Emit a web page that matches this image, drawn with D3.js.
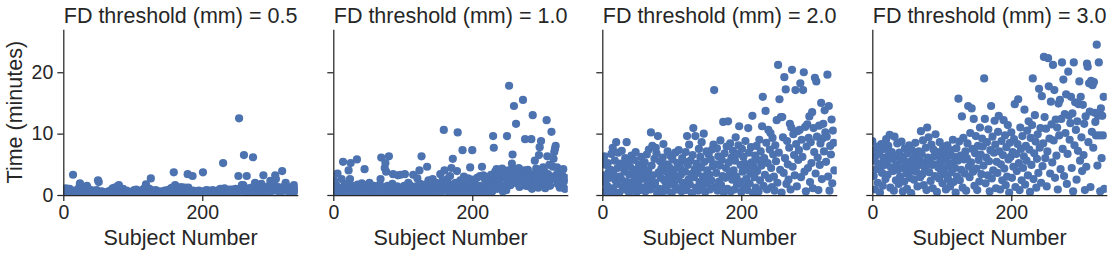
<!DOCTYPE html>
<html>
<head>
<meta charset="utf-8">
<script src="https://cdn.jsdelivr.net/npm/d3@7"></script>
<style>
  body { margin: 0; background: #fff; }
  svg text { font-family: Arial, "Liberation Sans", sans-serif; fill: #262626; }
</style>
</head>
<body>
<div class="chart"></div>
<script>
// facet titles
const thresholds = ["0.5", "1.0", "2.0", "3.0"];

// minutes kept per subject, one array per FD threshold (subject number = index)
const fd05 = [
  1.0,0.8,0.3,0.5,1.1,0.2,0.9,0.4,0.6,1.0,0.3,0.2,0.5,0.1,3.3,0.4,0.7,0.2,0.3,0.6,
  0.4,0.9,0.5,1.3,1.9,0.8,0.3,0.6,0.2,0.5,0.9,0.4,0.7,0.3,1.5,1.2,0.6,0.2,0.4,0.8,
  0.3,0.5,0.2,0.7,0.4,0.1,0.6,0.3,0.8,0.5,2.4,2.1,0.4,0.3,0.2,0.6,0.5,0.1,0.3,0.4,
  0.2,0.4,0.3,0.1,0.5,0.6,0.3,0.2,0.4,0.7,0.9,1.1,0.5,0.8,1.2,0.6,1.0,0.4,1.4,0.9,
  1.6,0.7,0.5,0.3,0.6,0.9,1.0,0.4,0.2,0.5,0.3,0.7,0.6,0.2,0.4,0.3,0.5,0.1,0.3,0.4,
  0.2,0.5,0.8,0.4,0.3,0.9,0.6,0.2,0.4,0.3,0.5,0.7,0.2,0.6,0.4,0.8,1.0,0.3,1.2,1.75,
  0.5,0.9,0.4,0.6,1.0,0.3,2.7,0.5,0.7,0.4,0.2,0.6,0.3,0.8,0.5,0.4,0.2,0.3,0.6,0.4,
  0.3,0.5,0.2,0.4,0.6,0.3,0.7,0.5,0.2,0.4,0.8,0.6,0.3,0.5,0.9,1.1,0.7,1.2,0.8,3.7,
  1.0,1.6,0.6,0.4,0.9,1.2,0.5,0.3,0.7,1.0,1.3,0.8,0.5,0.6,1.1,1.2,0.4,0.3,0.9,3.4,
  1.2,0.8,0.5,0.4,0.3,0.6,3.1,0.7,0.5,0.3,0.2,0.4,0.6,0.5,0.3,0.7,0.4,0.2,0.5,0.3,
  0.6,3.7,0.4,0.5,0.3,0.6,0.8,0.4,0.5,0.7,0.3,0.6,0.4,0.2,0.5,0.8,0.3,0.4,0.6,0.5,
  0.3,0.5,0.7,0.4,0.6,0.9,1.0,0.8,0.5,0.7,5.2,0.9,1.1,0.6,0.5,0.8,0.4,0.7,0.6,0.9,
  0.5,0.4,0.7,0.9,0.6,0.3,0.5,0.8,1.0,0.4,0.6,0.3,3.1,12.5,0.7,0.9,1.2,1.6,0.8,1.6,
  6.5,0.6,1.0,0.8,3.1,0.5,0.9,1.1,0.4,0.7,0.8,1.2,0.6,6.15,1.0,0.5,2.0,0.9,1.3,0.7,
  1.1,0.8,0.6,1.4,0.9,1.8,1.2,0.5,3.2,1.0,0.7,1.3,0.9,0.6,1.1,0.8,1.4,0.5,2.3,1.0,
  0.9,1.2,2.1,0.7,1.6,3.2,2.6,1.0,0.8,1.3,0.6,1.1,0.9,0.5,1.2,3.9,0.8,1.0,0.7,1.5,
  2.0,1.1,0.8,1.3,0.6,1.0,0.9,0.7,1.2,0.5,0.8,1.0,1.6,0.6,0.9
];
const fd10 = [
  1.2,2.4,0.3,0.8,1.6,0.5,3.5,1.0,0.4,1.1,0.2,0.9,2.6,0.6,5.4,1.4,0.3,0.7,1.8,0.5,
  0.9,0.4,4.0,1.0,2.6,5.2,0.6,1.5,0.3,1.2,0.8,0.2,1.1,0.5,5.8,1.7,0.9,0.2,0.6,1.3,
  0.6,1.9,0.3,0.7,1.1,4.2,0.5,1.6,0.2,0.8,0.4,1.3,2.0,0.7,0.2,1.0,0.4,0.5,1.5,0.9,
  0.3,1.4,0.8,0.1,0.5,1.0,0.2,1.7,2.6,6.1,0.6,1.2,0.4,0.9,4.4,5.2,3.8,0.4,1.5,0.7,
  6.3,0.7,1.3,0.2,0.5,1.8,3.4,0.9,0.3,1.1,0.6,0.6,1.4,3.2,0.8,0.2,1.0,3.3,0.5,1.2,
  0.3,0.7,1.5,3.4,0.4,1.0,0.2,0.8,2.0,0.3,1.6,0.6,0.5,1.2,0.5,3.3,0.9,0.1,0.4,1.4,
  0.8,2.7,1.3,0.5,4.0,1.8,0.6,6.3,0.7,0.2,1.0,0.4,1.7,0.9,0.6,4.6,1.1,2.4,0.3,1.5,
  0.2,0.9,1.8,2.6,0.5,1.3,0.4,0.7,2.0,1.1,0.4,0.8,1.6,0.3,3.4,1.2,0.6,2.3,1.5,10.6,
  4.0,1.4,0.7,0.9,2.6,1.8,0.5,1.2,3.1,0.3,4.4,1.5,5.9,0.3,1.8,0.8,2.0,0.6,3.9,10.2,
  1.1,0.8,0.7,2.4,1.9,0.4,7.3,1.2,3.0,0.6,0.1,1.6,1.5,0.9,2.7,0.3,1.3,4.5,0.8,2.5,
  7.3,1.0,0.5,2.2,0.6,1.6,0.3,2.8,1.2,0.8,0.4,3.1,1.5,0.2,4.6,1.1,3.2,0.7,2.6,0.9,
  1.6,1.3,2.9,0.9,0.4,2.2,1.6,3.3,0.5,0.7,9.6,7.7,1.8,3.8,2.5,4.2,1.0,3.4,2.0,4.0,
  2.6,3.7,1.2,4.3,0.6,3.0,1.5,2.8,3.6,0.8,9.6,2.3,4.0,17.8,3.2,1.6,2.7,5.1,6.6,3.5,
  14.5,4.2,2.4,11.6,1.9,3.6,2.9,4.4,1.3,3.0,2.2,3.8,1.7,15.5,2.6,4.0,9.1,1.5,3.3,2.0,
  4.1,2.8,1.4,3.5,2.3,9.1,1.0,13.0,3.2,2.0,5.6,1.8,4.3,2.5,3.7,1.2,6.5,7.8,2.9,8.8,
  3.1,1.6,4.5,2.4,3.8,1.1,2.7,12.2,6.3,3.4,2.0,4.9,1.5,3.0,10.3,2.6,4.6,5.9,7.0,7.5,
  8.0,3.3,4.5,1.8,2.9,3.6,1.2,2.5,4.0,1.6,3.1,4.2,2.2,1.0,2.8
];
const fd20 = [
  5.8,3.2,0.4,6.3,2.1,4.9,0.8,1.5,5.2,3.7,0.2,2.8,4.1,6.7,1.1,7.7,3.5,0.6,5.6,2.4,
  8.6,1.8,4.4,6.9,0.3,3.0,5.1,2.6,7.2,1.3,4.7,0.9,3.8,6.0,2.2,8.6,5.4,1.6,0.5,3.3,
  4.6,2.0,6.4,0.7,3.9,1.4,5.7,2.9,7.0,0.4,4.2,1.9,3.1,5.0,2.5,0.8,6.2,3.6,1.2,4.5,
  2.7,5.3,0.6,3.4,6.6,1.7,4.0,7.4,2.3,0.9,10.2,4.8,8.0,3.2,1.5,5.9,2.0,7.7,6.8,0.3,
  9.6,3.7,1.0,5.5,2.8,4.3,0.5,6.1,8.3,2.4,3.9,1.3,5.0,0.7,7.1,2.9,4.6,1.8,6.4,3.5,
  0.4,5.8,2.2,4.1,1.6,6.9,3.0,0.9,5.2,2.6,7.3,1.1,4.4,3.3,0.6,6.0,2.0,5.5,1.4,3.8,
  7.0,0.8,9.6,4.9,2.5,8.2,1.7,5.6,3.4,0.3,6.5,10.9,2.9,4.2,9.6,1.2,5.1,3.6,0.7,7.5,
  2.1,6.2,4.5,8.6,1.5,3.0,10.0,5.4,0.5,2.7,7.1,4.0,1.9,6.6,3.3,0.9,5.8,2.4,7.4,4.7,
  8.2,17.1,1.3,5.0,3.6,7.6,0.7,6.3,2.2,4.8,8.9,1.6,5.7,3.1,11.9,0.4,6.8,2.8,4.4,7.9,
  1.0,12.0,5.3,3.4,8.4,0.6,6.1,2.5,7.2,4.0,0.9,5.6,9.4,3.0,1.7,6.7,8.1,11.2,2.2,4.9,
  0.5,7.5,3.8,6.2,1.4,5.1,8.8,2.6,4.3,0.8,10.9,6.9,1.9,3.5,7.8,5.3,12.9,0.3,4.6,2.9,
  6.4,1.2,8.0,3.9,5.7,0.6,9.0,2.4,7.1,4.8,11.2,16.0,1.5,6.0,3.3,13.7,8.5,0.9,5.2,10.6,
  2.7,7.4,10.1,4.4,1.3,9.3,6.6,3.0,0.7,8.1,5.5,12.2,2.0,21.2,6.9,15.6,4.1,12.7,0.4,12.7,
  9.4,3.6,19.2,6.0,17.2,1.8,8.8,5.0,2.5,7.7,11.6,0.9,11.0,20.4,4.6,9.9,6.5,3.2,17.1,8.3,
  1.4,10.4,5.7,7.3,10.6,18.2,2.9,9.0,6.2,17.1,20.0,3.8,11.1,0.6,7.9,11.5,4.4,9.3,12.8,2.1,
  8.6,5.2,13.5,1.1,10.9,7.0,19.1,3.5,18.5,9.5,6.1,0.8,11.3,4.9,8.4,15.0,2.6,9.2,11.6,7.1,
  13.8,10.2,5.4,9.5,19.6,3.0,14.5,0.7,8.0,6.6,12.3,1.9,10.5,8.5,4.0
];
const fd30 = [
  8.8,7.2,3.1,5.6,0.9,6.4,4.2,7.9,2.0,5.1,6.8,0.4,4.7,8.3,3.6,1.5,6.1,7.5,4.9,2.6,
  9.1,5.4,3.3,8.0,6.6,9.8,1.2,4.5,7.0,5.9,3.9,0.7,9.5,6.3,2.4,5.0,8.4,4.1,1.8,6.9,
  3.0,5.7,8.7,4.4,0.6,6.2,2.2,7.6,5.2,3.5,1.0,6.8,4.6,8.1,2.8,5.5,0.3,7.3,4.0,6.0,
  2.5,5.0,8.5,3.8,6.5,1.4,4.8,7.1,5.8,2.9,10.4,6.7,3.4,8.9,1.6,5.3,4.3,7.7,0.8,11.0,
  6.1,9.4,3.7,5.5,2.3,8.2,4.9,1.1,7.4,6.3,3.1,9.9,5.0,0.5,7.0,4.5,2.7,8.6,6.0,3.9,
  5.4,1.9,7.8,4.2,6.9,3.3,0.9,5.9,8.1,2.6,4.8,6.5,1.4,7.3,3.7,5.1,9.0,2.1,6.2,4.4,
  0.4,7.6,3.0,5.6,15.7,8.7,2.4,6.4,4.1,12.8,1.2,9.3,5.8,3.5,7.1,0.7,6.0,8.4,14.5,4.6,
  2.9,10.1,5.3,14.1,7.5,3.8,12.4,1.5,6.8,9.6,4.3,0.8,8.0,5.7,2.2,11.0,6.6,3.4,9.2,7.9,
  4.8,19.0,12.4,1.9,6.1,8.6,3.2,10.7,5.5,0.6,7.3,14.5,2.7,9.5,4.0,6.9,12.1,8.2,1.1,5.4,
  3.6,10.3,12.9,7.1,0.9,5.0,8.8,2.4,6.5,12.2,4.3,9.7,1.6,7.8,3.0,11.4,5.8,0.4,8.5,6.2,
  10.2,2.8,7.0,4.6,9.1,14.8,1.3,6.7,3.9,8.3,15.6,5.2,0.8,11.0,7.5,2.4,9.6,4.4,6.3,13.9,
  1.7,8.0,5.6,10.5,3.2,12.0,7.4,0.5,9.3,4.9,11.4,19.0,2.6,6.8,13.0,8.7,1.2,5.9,9.9,3.6,
  17.3,7.7,10.9,2.0,16.1,4.7,8.4,22.5,12.7,6.0,10.8,1.4,7.1,22.3,17.7,9.2,3.5,15.2,11.5,5.3,
  21.2,8.9,17.1,2.8,12.3,6.4,11.0,0.9,14.9,9.7,15.5,4.2,12.4,21.6,7.5,18.8,3.1,13.2,10.1,16.4,
  1.8,6.7,20.1,12.9,9.0,11.7,16.0,4.4,13.3,0.6,21.6,8.1,15.1,10.6,2.5,12.0,7.2,14.8,18.5,5.6,
  16.0,9.4,3.9,14.7,6.5,11.6,0.8,12.8,4.6,21.4,20.9,8.6,18.2,13.6,1.3,18.6,10.3,17.9,7.7,18.4,
  13.4,11.9,9.7,24.5,4.8,12.9,21.6,9.7,0.6,14.1,6.0,12.9,9.7,16.0,1.0
];
const series = [fd05, fd10, fd20, fd30];

const xTicks = [0, 200];
const yTicks = [0, 10, 20];

const W = 1119, H = 255;
const panelLeft = [63.3, 333.3, 602.3, 872.3];
const panelWidth = 234.5;
const plotTop = 29.3, plotBottom = 195;

const svg = d3.select(".chart")
  .append("svg")
  .attr("width", W)
  .attr("height", H);

const xScale = d3.scaleLinear().domain([0, 337.5]).range([0, panelWidth]);
const yScale = d3.scaleLinear().domain([0, 27]).range([plotBottom, plotTop]);

svg.append("defs")
  .append("clipPath")
  .attr("id", "plot-clip")
  .append("rect")
  .attr("x", 0)
  .attr("y", plotTop)
  .attr("width", panelWidth)
  .attr("height", plotBottom - plotTop);

series.forEach((values, k) => {
  const g = svg.append("g")
    .attr("transform", `translate(${panelLeft[k]},0)`);

  // points
  g.append("g")
    .attr("clip-path", "url(#plot-clip)")
    .selectAll("circle")
    .data(values)
    .join("circle")
    .attr("cx", (d, i) => xScale(i))
    .attr("cy", d => yScale(d))
    .attr("r", 4.1)
    .attr("fill", "#4c72b0");

  // axes
  const xAxis = d3.axisBottom(xScale)
    .tickValues(xTicks)
    .tickSize(6)
    .tickSizeOuter(0)
    .tickPadding(4);
  const yAxis = d3.axisLeft(yScale)
    .tickValues(yTicks)
    .tickSize(6)
    .tickSizeOuter(0)
    .tickPadding(4)
    .tickFormat(k === 0 ? d3.format("d") : () => "");

  const gx = g.append("g")
    .attr("transform", `translate(0,${plotBottom})`)
    .call(xAxis);
  const gy = g.append("g").call(yAxis);

  [gx, gy].forEach(a => {
    a.selectAll("path, line")
      .attr("stroke", "#262626")
      .attr("stroke-width", 1.25);
    a.selectAll("text")
      .attr("font-size", "19.5px")
      .attr("fill", "#262626")
      .style("font-family", "Arial, 'Liberation Sans', sans-serif");
  });

  // facet title
  g.append("text")
    .attr("x", panelWidth / 2)
    .attr("y", 23)
    .attr("text-anchor", "middle")
    .attr("font-size", "21.5px")
    .text("FD threshold (mm) = " + thresholds[k]);

  // x label
  g.append("text")
    .attr("x", panelWidth / 2)
    .attr("y", 245)
    .attr("text-anchor", "middle")
    .attr("font-size", "21.5px")
    .text("Subject Number");
});

// y label
svg.append("text")
  .attr("transform", `translate(22,${(plotTop + plotBottom) / 2}) rotate(-90)`)
  .attr("text-anchor", "middle")
  .attr("font-size", "21.5px")
  .text("Time (minutes)");
</script>
</body>
</html>
